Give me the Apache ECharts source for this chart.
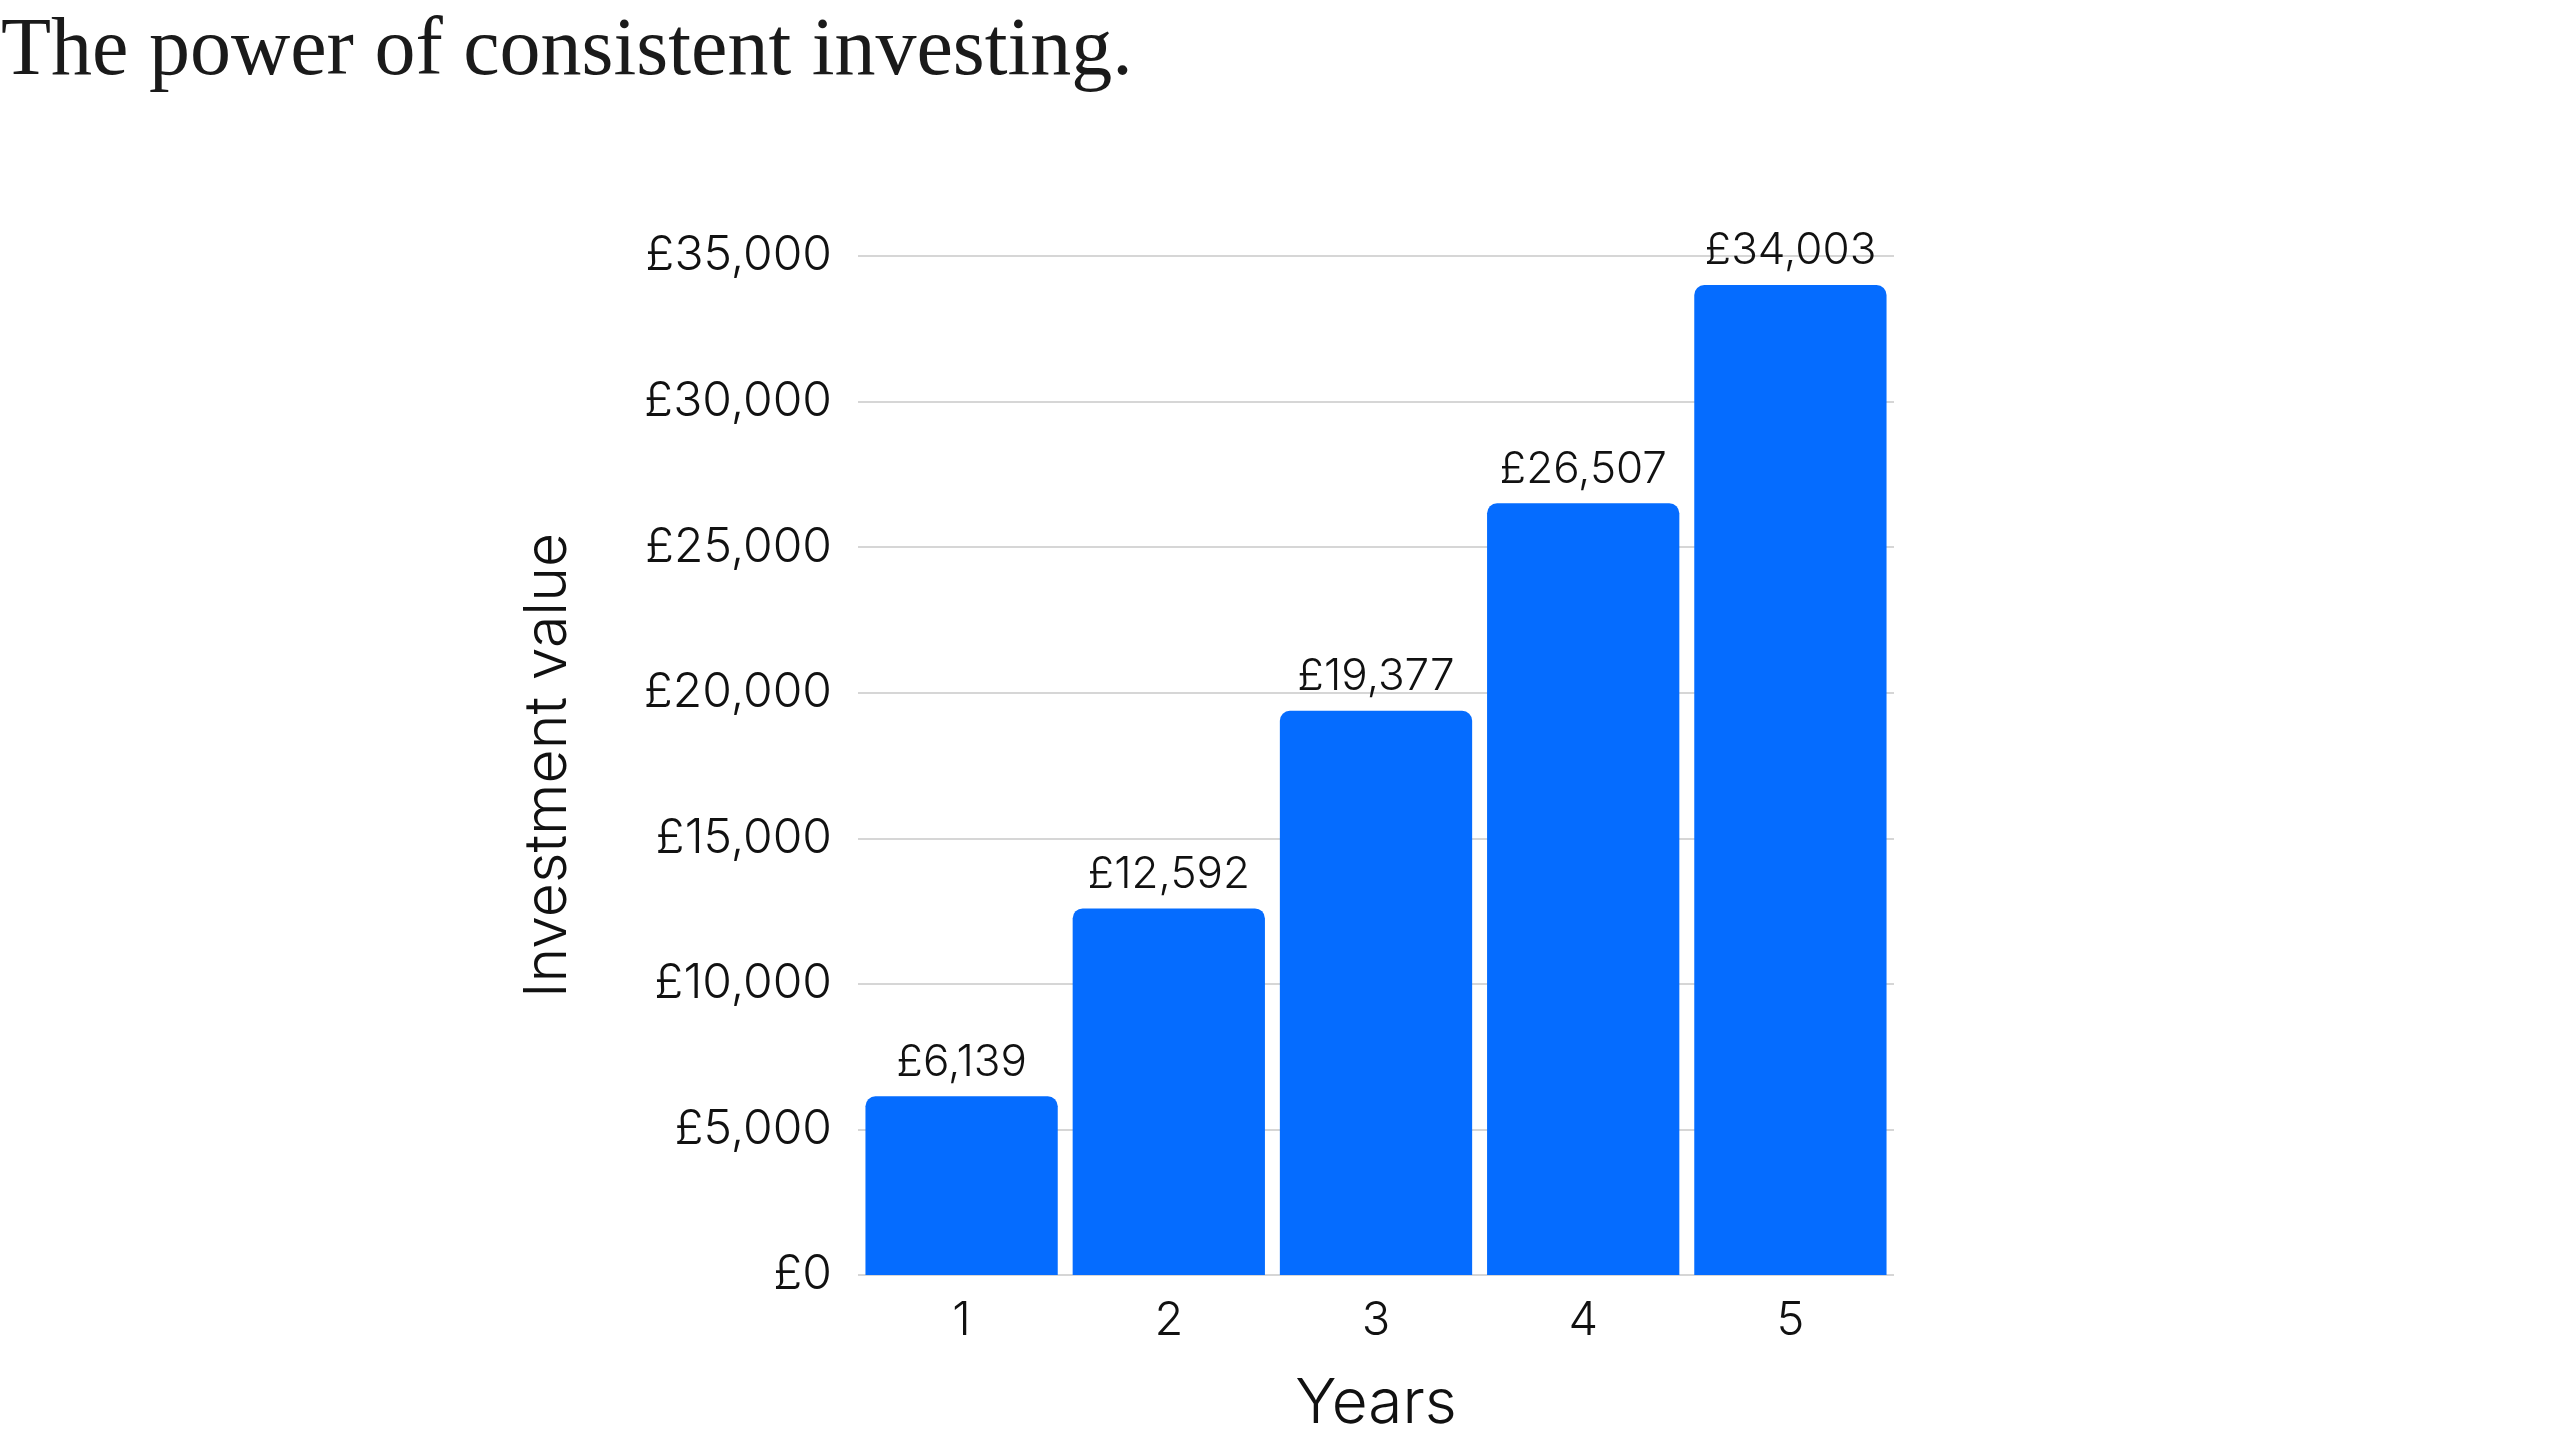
<!DOCTYPE html>
<html>
<head>
<meta charset="utf-8">
<style>
  html, body { margin: 0; padding: 0; background: #fff; }
  #chart { width: 2560px; height: 1440px; }
</style>
<script src="https://cdn.jsdelivr.net/npm/echarts@6/dist/echarts.min.js"></script>
</head>
<body>
<div id="chart"></div>
<script>
var years = ['1', '2', '3', '4', '5'];
var values = [6139, 12592, 19377, 26507, 34003];
var yTicks = [0, 5000, 10000, 15000, 20000, 25000, 30000, 35000];

function money(v) {
    return '£' + Number(v).toLocaleString('en-GB');
}

var chart = echarts.init(document.getElementById('chart'));
var option = {
    backgroundColor: '#ffffff',
    title: {
        text: 'The power of consistent investing.',
        left: -4,
        top: 6,
        textStyle: {
            fontFamily: 'Liberation Serif',
            fontWeight: 'normal',
            fontSize: 82,
            color: '#1a1a1a'
        }
    },
    grid: {
        left: 858,
        right: 666,
        top: 256,
        bottom: 164
    },
    xAxis: {
        type: 'category',
        data: years,
        name: 'Years',
        nameLocation: 'middle',
        nameGap: 98,
        nameTextStyle: { fontFamily: 'Inter', fontWeight: 300, fontSize: 62, color: '#111' },
        axisLine: { show: false },
        axisTick: { show: false },
        axisLabel: { fontFamily: 'Inter', fontWeight: 300, fontSize: 47, color: '#111', margin: 22 }
    },
    yAxis: {
        type: 'value',
        min: yTicks[0],
        max: yTicks[yTicks.length - 1],
        interval: 5000,
        name: 'Investment value',
        nameLocation: 'middle',
        nameGap: 280,
        nameTextStyle: { fontFamily: 'Inter', fontWeight: 300, fontSize: 59, color: '#111' },
        axisLine: { show: false },
        axisTick: { show: false },
        splitLine: { lineStyle: { color: '#d6d6d6', width: 2 } },
        axisLabel: {
            fontFamily: 'Inter', fontWeight: 300, fontSize: 48, color: '#111', margin: 26,
            formatter: money
        }
    },
    series: [{
        type: 'bar',
        data: values,
        barCategoryGap: '7.2%',
        itemStyle: { color: '#056cff', borderRadius: [10, 10, 0, 0] },
        label: {
            show: true,
            position: 'top',
            distance: 12,
            fontFamily: 'Inter',
            fontWeight: 300,
            fontSize: 44,
            color: '#111',
            formatter: function (p) { return money(p.value); }
        }
    }]
};
chart.setOption(option);
</script>
</body>
</html>
